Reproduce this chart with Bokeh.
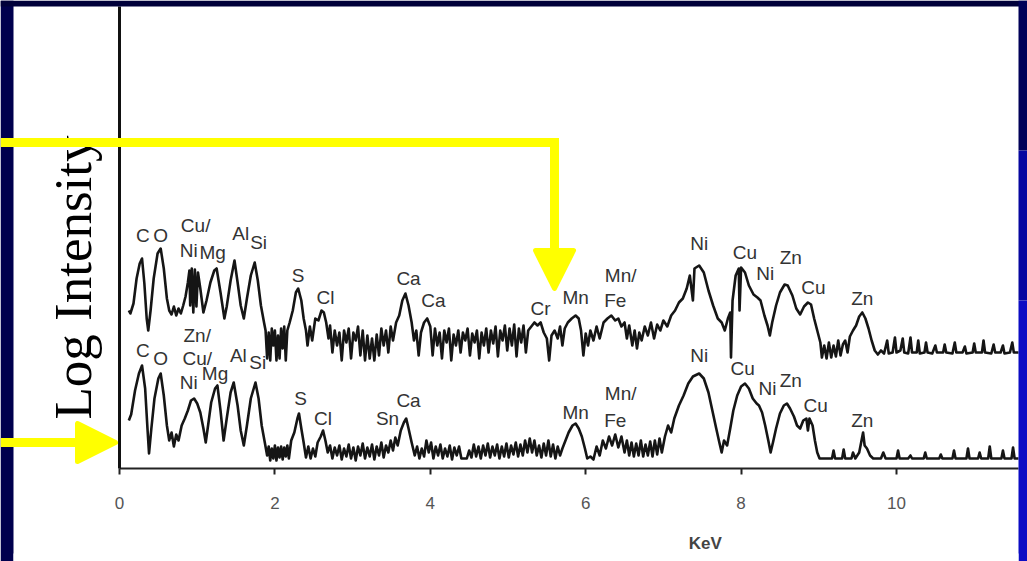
import math
from bokeh.plotting import figure
from bokeh.models import (Range1d, FixedTicker, BoxAnnotation, Label, Arrow,
                          NormalHead, ColumnDataSource)
from bokeh.core.properties import value
from bokeh.embed import file_html
from bokeh.resources import INLINE

# ---------------- data (energy in keV, log intensity in arbitrary units) -------------
top_kev = [0.12, 0.14, 0.18, 0.22, 0.26, 0.29, 0.32, 0.35, 0.37, 0.40, 0.44, 0.49, 0.53,
           0.57, 0.61, 0.64, 0.67, 0.70, 0.73, 0.76, 0.79, 0.82, 0.85, 0.88, 0.90, 0.91,
           0.93, 0.95, 0.97, 0.99, 1.01, 1.04, 1.08, 1.12, 1.17, 1.22, 1.25, 1.30, 1.35,
           1.38, 1.43, 1.48, 1.52, 1.56, 1.60, 1.64, 1.69, 1.74, 1.78, 1.82, 1.86,
           1.88, 1.90, 1.92, 1.94, 1.96, 1.98, 2.00, 2.02, 2.04, 2.06, 2.08, 2.10, 2.12,
           2.14, 2.16, 2.19, 2.23, 2.27, 2.30, 2.34, 2.37, 2.40, 2.42, 2.45, 2.48, 2.52,
           2.56, 2.60, 2.63, 2.66, 2.69, 2.71, 2.74, 2.77, 2.80, 2.83, 2.86, 2.89, 2.92,
           2.95, 2.98, 3.01, 3.04, 3.07, 3.10, 3.13, 3.16, 3.19, 3.22, 3.25, 3.28, 3.31,
           3.34, 3.37, 3.40, 3.43, 3.46, 3.49, 3.52, 3.56, 3.60, 3.64, 3.68, 3.72, 3.76,
           3.79, 3.82, 3.85, 3.88, 3.92, 3.96, 4.00, 4.03, 4.06, 4.09, 4.12, 4.15, 4.18,
           4.21, 4.24, 4.27, 4.30, 4.33, 4.36, 4.39, 4.42, 4.45, 4.48, 4.51, 4.54, 4.57,
           4.60, 4.63, 4.66, 4.69, 4.72, 4.75, 4.78, 4.81, 4.84, 4.87, 4.90, 4.93, 4.96,
           4.99, 5.02, 5.05, 5.08, 5.11, 5.14, 5.17, 5.20, 5.23, 5.26, 5.30, 5.34, 5.38,
           5.42, 5.46, 5.50, 5.53, 5.56, 5.60, 5.64, 5.67, 5.70, 5.73, 5.77, 5.82, 5.87,
           5.91, 5.94, 5.97, 6.00, 6.03, 6.06, 6.10, 6.14, 6.18, 6.23, 6.28, 6.33, 6.38,
           6.42, 6.46, 6.50, 6.53, 6.56, 6.60, 6.63, 6.66, 6.69, 6.72, 6.76, 6.80, 6.84,
           6.88, 6.92, 6.96, 7.00, 7.05, 7.10, 7.15, 7.20, 7.25, 7.30, 7.34, 7.38, 7.40,
           7.46, 7.52, 7.58, 7.64, 7.70, 7.75, 7.79, 7.83, 7.86, 7.87, 7.89, 7.93, 7.97,
           7.98, 8.00, 8.05, 8.10, 8.16, 8.21, 8.25, 8.30, 8.34, 8.37, 8.40, 8.45, 8.50,
           8.56, 8.60, 8.66, 8.71, 8.76, 8.81, 8.86, 8.90, 8.94, 8.98, 9.02, 9.04, 9.07,
           9.10, 9.13, 9.16, 9.19, 9.22, 9.25, 9.28, 9.31, 9.34, 9.37, 9.40, 9.44, 9.48,
           9.52, 9.56, 9.60, 9.64, 9.68, 9.72, 9.76, 9.80, 9.84, 9.88, 9.90, 9.95, 9.98,
           10.00, 10.05, 10.08, 10.10, 10.15, 10.18, 10.20, 10.26, 10.28, 10.30, 10.36,
           10.38, 10.40, 10.46, 10.50, 10.52, 10.60, 10.62, 10.64, 10.72, 10.75, 10.77,
           10.85, 10.88, 10.90, 10.98, 11.00, 11.02, 11.10, 11.12, 11.14, 11.22, 11.25,
           11.27, 11.34, 11.37, 11.39, 11.46, 11.49, 11.51, 11.57]
top_int = [158, 155, 165, 190, 205, 210, 185, 150, 138, 158, 190, 215, 220,
           200, 170, 158, 154, 162, 153, 160, 155, 163, 172, 186, 198, 163,
           200, 156, 199, 162, 196, 180, 156, 168, 186, 198, 200, 176, 150,
           162, 188, 208, 186, 163, 150, 170, 193, 206, 188, 163, 146,
           138, 110, 136, 108, 140, 123, 138, 108, 133, 110, 140, 120, 142,
           108, 138, 146, 158, 176, 180, 168, 150, 138, 123, 142, 128, 150,
           148, 158, 156, 146, 130, 143, 116, 138, 123, 136, 108, 138, 126,
           140, 110, 136, 128, 142, 113, 138, 108, 133, 110, 130, 108, 134,
           113, 140, 123, 138, 116, 142, 128, 146, 153, 168, 175, 163, 146,
           128, 138, 113, 136, 146, 150, 142, 113, 140, 123, 136, 110, 138,
           126, 140, 108, 134, 123, 138, 116, 136, 128, 140, 113, 135, 126,
           138, 110, 136, 123, 140, 116, 138, 125, 142, 112, 138, 128, 143,
           118, 140, 123, 144, 112, 140, 126, 143, 116, 138, 142, 146, 143,
           146, 136, 130, 108, 133, 138, 130, 142, 123, 140, 146, 150, 153,
           150, 138, 113, 135, 123, 138, 128, 142, 130, 146, 150, 153, 148,
           150, 142, 146, 130, 143, 123, 138, 120, 136, 128, 142, 133, 146,
           130, 144, 138, 148, 142, 153, 158, 166, 170, 180, 193, 168, 200,
           203, 196, 178, 163, 150, 146, 138, 150, 156, 111, 168, 193, 200,
           158, 201, 196, 183, 174, 171, 168, 153, 143, 133, 146, 163, 176,
           184, 183, 173, 160, 154, 162, 166, 164, 150, 138, 126, 111, 123,
           110, 126, 111, 123, 112, 128, 113, 124, 128, 116, 132, 138, 143,
           152, 156, 150, 140, 128, 118, 114, 118, 115, 128, 115, 116, 131,
           116, 118, 130, 116, 115, 131, 116, 116, 128, 115, 116,
           126, 116, 115, 123, 116, 116, 124, 116, 115, 126, 116,
           116, 122, 115, 116, 125, 116, 116, 128, 116, 115, 124,
           116, 116, 123, 115, 116, 126, 116, 116]

bot_kev = [0.12, 0.15, 0.20, 0.25, 0.29, 0.33, 0.36, 0.38, 0.41, 0.45, 0.50, 0.53, 0.57,
           0.61, 0.64, 0.67, 0.70, 0.73, 0.76, 0.80, 0.84, 0.88, 0.92, 0.96, 1.00, 1.04,
           1.08, 1.11, 1.14, 1.18, 1.23, 1.26, 1.30, 1.34, 1.38, 1.43, 1.47, 1.52, 1.56,
           1.60, 1.64, 1.69, 1.75, 1.79, 1.83, 1.87, 1.90, 1.92, 1.94, 1.96, 1.98, 2.00,
           2.02, 2.04, 2.06, 2.08, 2.10, 2.12, 2.14, 2.16, 2.18, 2.21, 2.25, 2.29, 2.31,
           2.34, 2.37, 2.40, 2.43, 2.46, 2.49, 2.52, 2.55, 2.59, 2.62, 2.65, 2.68, 2.71,
           2.74, 2.77, 2.80, 2.83, 2.86, 2.89, 2.92, 2.95, 2.98, 3.01, 3.04, 3.07, 3.10,
           3.13, 3.16, 3.19, 3.22, 3.25, 3.28, 3.31, 3.34, 3.37, 3.40, 3.43, 3.46, 3.49,
           3.52, 3.55, 3.58, 3.62, 3.66, 3.69, 3.72, 3.76, 3.80, 3.83, 3.86, 3.89, 3.92,
           3.95, 3.98, 4.01, 4.04, 4.07, 4.10, 4.13, 4.16, 4.19, 4.22, 4.25, 4.28, 4.31,
           4.34, 4.37, 4.40, 4.43, 4.47, 4.50, 4.53, 4.56, 4.59, 4.62, 4.65, 4.68, 4.71,
           4.74, 4.77, 4.80, 4.83, 4.86, 4.89, 4.92, 4.95, 4.98, 5.01, 5.04, 5.07, 5.10,
           5.13, 5.16, 5.19, 5.22, 5.25, 5.28, 5.31, 5.34, 5.37, 5.40, 5.43, 5.46, 5.49,
           5.52, 5.55, 5.58, 5.61, 5.64, 5.67, 5.70, 5.74, 5.78, 5.83, 5.87, 5.91, 5.95,
           5.99, 6.02, 6.06, 6.10, 6.14, 6.18, 6.22, 6.26, 6.30, 6.34, 6.38, 6.42, 6.46,
           6.50, 6.53, 6.56, 6.59, 6.62, 6.65, 6.68, 6.71, 6.74, 6.77, 6.80, 6.83, 6.86,
           6.89, 6.92, 6.95, 6.98, 7.02, 7.06, 7.10, 7.14, 7.20, 7.26, 7.32, 7.38, 7.46,
           7.52, 7.58, 7.63, 7.68, 7.72, 7.75, 7.78, 7.82, 7.86, 7.90, 7.95, 8.00, 8.05,
           8.10, 8.15, 8.20, 8.23, 8.27, 8.31, 8.35, 8.38, 8.41, 8.45, 8.50, 8.55, 8.59,
           8.63, 8.68, 8.72, 8.76, 8.80, 8.84, 8.86, 8.88, 8.92, 8.95, 8.98, 9.01, 9.10,
           9.17, 9.19, 9.21, 9.30, 9.32, 9.34, 9.42, 9.44, 9.47, 9.52, 9.55, 9.57, 9.59,
           9.62, 9.66, 9.70, 9.80, 9.83, 9.86, 10.00, 10.02, 10.04, 10.15, 10.18, 10.20,
           10.35, 10.37, 10.39, 10.55, 10.57, 10.59, 10.72, 10.74, 10.76, 10.90, 10.92,
           10.94, 11.05, 11.07, 11.09, 11.18, 11.20, 11.22, 11.35, 11.37, 11.39, 11.48,
           11.50, 11.52, 11.57]
bot_int = [48, 54, 78, 95, 103, 80, 40, 15, 40, 70, 90, 95, 73,
           43, 28, 36, 22, 34, 28, 43, 50, 58, 68, 70, 65, 56,
           40, 26, 43, 66, 80, 83, 58, 28, 50, 76, 86, 63, 38,
           23, 43, 70, 86, 70, 43, 26, 13, 22, 8, 20, 10, 23,
           8, 21, 11, 22, 9, 21, 12, 23, 10, 28, 36, 50, 55,
           40, 26, 11, 22, 10, 20, 12, 26, 32, 38, 28, 16, 23,
           10, 21, 13, 23, 9, 20, 12, 24, 10, 21, 8, 22, 13,
           25, 10, 21, 12, 24, 9, 22, 13, 26, 11, 23, 16, 28,
           18, 31, 23, 38, 46, 50, 40, 26, 13, 22, 10, 20, 12,
           28, 16, 26, 10, 22, 13, 24, 10, 20, 12, 23, 9, 21,
           13, 22, 10, 10, 10, 18, 11, 24, 12, 22, 10, 23, 13,
           25, 11, 22, 13, 24, 10, 22, 12, 25, 11, 23, 14, 26,
           12, 24, 13, 28, 16, 30, 16, 28, 13, 23, 11, 25, 13,
           28, 12, 24, 10, 22, 13, 20, 28, 36, 43, 45, 40, 32,
           20, 10, 12, 9, 22, 13, 28, 20, 32, 23, 34, 21, 32,
           16, 28, 13, 26, 12, 25, 13, 28, 12, 24, 13, 27, 12,
           28, 14, 30, 16, 32, 43, 36, 50, 63, 73, 85, 92, 95,
           90, 76, 58, 40, 26, 16, 28, 23, 40, 58, 73, 82, 85,
           80, 70, 65, 63, 56, 43, 28, 16, 26, 40, 55, 63, 65,
           60, 52, 43, 40, 48, 50, 38, 50, 43, 28, 16, 10, 10,
           10, 18, 10, 10, 19, 10, 10, 16, 10, 16, 28, 36, 23,
           20, 13, 10, 10, 16, 10, 10, 18, 10, 10, 13, 10,
           10, 16, 10, 10, 14, 10, 10, 18, 10, 10, 20,
           10, 10, 16, 10, 10, 22, 10, 10, 18, 10, 10,
           21, 10, 10]

top_labels = ["C", "O", "Cu/", "Ni", "Mg", "Al", "Si", "S", "Cl", "Ca", "Ca", "Cr", "Mn",
              "Mn/", "Fe", "Ni", "Cu", "Ni", "Zn", "Cu", "Zn"]
top_lab_kev = [0.30, 0.53, 0.98, 0.89, 1.20, 1.56, 1.79, 2.30, 2.65, 3.72, 4.04, 5.42, 5.87,
               6.45, 6.38, 7.46, 8.05, 8.31, 8.64, 8.93, 9.56]
top_lab_int = [233, 233, 243, 218, 216, 235, 226, 193, 171, 190, 168, 160, 171,
               193, 168, 225, 216, 195, 211, 181, 170]

bot_labels = ["Zn/", "C", "O", "Cu/", "Ni", "Mg", "Al", "Si", "S", "Cl", "Sn", "Ca", "Mn",
              "Mn/", "Fe", "Ni", "Cu", "Ni", "Zn", "Cu", "Zn"]
bot_lab_kev = [1.00, 0.30, 0.53, 1.00, 0.89, 1.23, 1.53, 1.78, 2.33, 2.62, 3.45, 3.72, 5.87,
               6.45, 6.38, 7.46, 8.02, 8.34, 8.64, 8.96, 9.56]
bot_lab_int = [133, 118, 110, 110, 86, 95, 113, 106, 70, 50, 50, 68, 56,
               75, 48, 113, 100, 80, 88, 63, 48]

x_ticks = [0, 2, 4, 6, 8, 10]
x_title = "KeV"
y_title = "Log Intensity"

# ---------------- figure ---------------------------------------------------------------
PX_PER_KEV = 77.7
X0 = -119 / PX_PER_KEV                 # canvas left edge in keV
X1 = (1027 - 119) / PX_PER_KEV         # canvas right edge in keV
X_MAX = 899 / PX_PER_KEV               # right end of the x axis
XL = -106 / PX_PER_KEV                 # inner edge of the left blue band
Y0, Y1 = -93, 468                      # canvas bottom / top in intensity units
p = figure(width=1027, height=561, output_backend="svg", toolbar_location=None,
           x_range=Range1d(X0, X1), y_range=Range1d(Y0, Y1),
           min_border=0, min_border_left=0, min_border_right=0,
           min_border_top=0, min_border_bottom=0)
p.title.visible = False
p.background_fill_color = "white"
p.border_fill_color = "white"
p.outline_line_color = None
p.xgrid.visible = False
p.ygrid.visible = False

p.yaxis.fixed_location = 0
p.yaxis.bounds = (0, 462)
p.yaxis.ticker = FixedTicker(ticks=[])
p.yaxis.axis_line_color = "#111111"
p.yaxis.axis_line_width = 3
p.yaxis.major_label_text_font_size = "0px"
p.yaxis.major_tick_line_color = None
p.yaxis.minor_tick_line_color = None

p.xaxis.fixed_location = 0
p.xaxis.bounds = (0, X_MAX)
p.xaxis.ticker = FixedTicker(ticks=x_ticks)
p.xaxis.axis_line_color = "#222222"
p.xaxis.axis_line_width = 2
p.xaxis.major_tick_line_color = "#222222"
p.xaxis.major_tick_line_width = 2
p.xaxis.major_tick_in = 0
p.xaxis.major_tick_out = 6
p.xaxis.minor_tick_line_color = None
p.xaxis.major_label_text_font = "Liberation Sans"
p.xaxis.major_label_text_font_size = "17px"
p.xaxis.major_label_text_color = "#555555"
p.xaxis.major_label_standoff = 22

# blue frame around the white panel (kept strictly inside the canvas)
for l, r, b, t, c in [(X0, XL, Y0, Y1, "#00004e"),
                      (X0, X1, 462, Y1, "#00003a"),
                      (X_MAX, X1, 318, Y1, "#000058"),
                      (X_MAX, X1, 168, 318, "#0606a0"),
                      (X_MAX, X1, Y0, 168, "#0c0cc4")]:
    p.add_layout(BoxAnnotation(left=l, right=r, bottom=b, top=t, fill_color=c,
                               fill_alpha=1.0, line_color=None))
# white panel reaches the bottom edge
p.add_layout(BoxAnnotation(left=XL, right=X_MAX, bottom=Y0, top=Y0 + 8,
                           fill_color="white", fill_alpha=1.0, line_color=None,
                           level="overlay"))

# spectra
p.line(top_kev, top_int, line_color="#151515", line_width=2.6, line_join="round")
p.line(bot_kev, bot_int, line_color="#151515", line_width=2.6, line_join="round")

# element labels
src_t = ColumnDataSource(dict(x=top_lab_kev, y=top_lab_int, t=top_labels))
src_b = ColumnDataSource(dict(x=bot_lab_kev, y=bot_lab_int, t=bot_labels))
for src in (src_t, src_b):
    p.text(x="x", y="y", text="t", source=src, text_align="center", text_baseline="middle",
           text_font=value("Liberation Sans"), text_font_size="19px", text_color="#333333")

# axis titles
p.add_layout(Label(x=-0.60, y=191, text=y_title, angle=math.pi / 2, text_align="center",
                   text_baseline="alphabetic", text_font="Liberation Serif",
                   text_font_size="53px", text_color="#000000"))
p.add_layout(Label(x=7.54, y=-75, text=x_title, text_align="center", text_baseline="middle",
                   text_font="Liberation Sans", text_font_size="17px", text_font_style="bold",
                   text_color="#444444"))

# yellow arrows
YEL = "#ffff00"
xa = (554 - 119) / PX_PER_KEV
p.add_layout(Arrow(x_start=X0, y_start=326, x_end=xa + 4.5 / PX_PER_KEV, y_end=326,
                   start=None, end=None, line_color=YEL, line_width=9, level="overlay"))
p.add_layout(Arrow(x_start=xa, y_start=326, x_end=xa, y_end=180,
                   end=NormalHead(size=38, fill_color=YEL, line_color=YEL, line_width=5,
                                  line_join="round"),
                   line_color=YEL, line_width=9, level="overlay"))
p.add_layout(Arrow(x_start=X0, y_start=26, x_end=-4 / PX_PER_KEV, y_end=26,
                   end=NormalHead(size=38, fill_color=YEL, line_color=YEL, line_width=5,
                                  line_join="round"),
                   line_color=YEL, line_width=9, level="overlay"))

open("out.html", "w").write(file_html(p, INLINE))
